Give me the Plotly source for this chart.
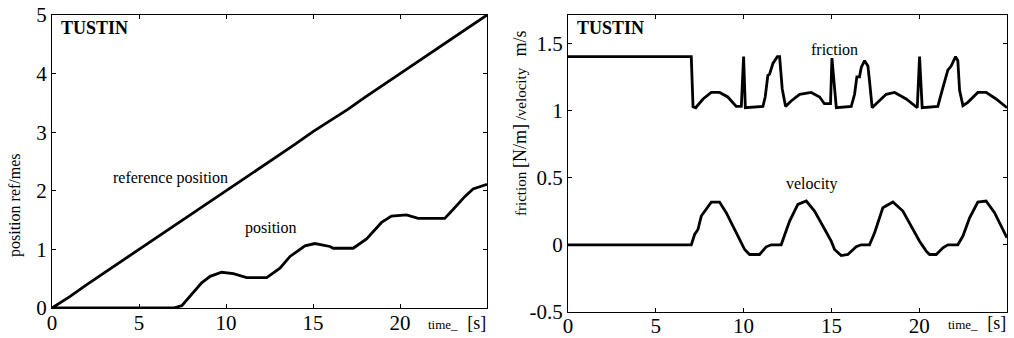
import plotly.graph_objects as go

# ---- data ----
ref_t = [0, 1, 2, 3, 4, 5, 6, 7, 8, 9, 10, 11, 12, 13, 14, 15, 16, 17, 18, 19, 20, 21, 22, 23, 24, 25]
ref_pos = [0.0, 0.19, 0.40, 0.60, 0.79, 1.0, 1.2, 1.39, 1.6, 1.8, 1.99, 2.2, 2.39, 2.6, 2.8, 3.01, 3.2, 3.39, 3.6, 3.8, 3.99, 4.2, 4.4, 4.6, 4.8, 5.0]

pos_t = [0, 6.98, 7.46, 8.03, 8.6, 9.09, 9.75, 10.42, 11.19, 12.34, 13.1, 13.68, 14.54, 15.11, 15.97,
         16.16, 17.31, 18.08, 18.94, 19.51, 20.37, 21.04, 22.57, 23.05, 23.72, 24.2, 25.0]
pos = [0, 0, 0.04, 0.23, 0.43, 0.54, 0.61, 0.585, 0.52, 0.52, 0.68, 0.88, 1.06, 1.10, 1.05,
       1.02, 1.02, 1.18, 1.46, 1.57, 1.59, 1.53, 1.53, 1.68, 1.90, 2.03, 2.11]

fric_t = [0, 7.02, 7.12, 7.27, 7.69, 8.16, 8.63, 9.1, 9.58, 9.87, 10.0, 10.1, 11.1, 11.23, 11.38, 11.48,
          11.67, 11.92, 12.05, 12.2, 12.39, 12.71, 13.19, 13.85, 14.33, 14.6, 14.95, 15.03, 15.28, 16.13,
          16.32, 16.45, 16.6, 16.7, 16.89, 17.08, 17.17, 17.32, 17.55, 18.12, 18.6, 19.26, 19.89, 20.02,
          20.17, 21.06, 21.35, 21.63, 21.82, 22.07, 22.2, 22.3, 22.49, 22.77, 23.34, 23.81, 24.38, 25.0]
friction = [1.40, 1.40, 1.027, 1.02, 1.085, 1.134, 1.134, 1.10, 1.03, 1.03, 1.40, 1.02, 1.03, 1.10, 1.26, 1.27,
            1.35, 1.40, 1.40, 1.16, 1.03, 1.07, 1.12, 1.134, 1.10, 1.05, 1.05, 1.39, 1.02, 1.03,
            1.12, 1.25, 1.25, 1.32, 1.37, 1.33, 1.22, 1.02, 1.05, 1.12, 1.134, 1.085, 1.02, 1.40,
            1.02, 1.03, 1.17, 1.30, 1.33, 1.40, 1.37, 1.15, 1.035, 1.06, 1.134, 1.134, 1.085, 1.02]

vel_t = [0, 7.02, 7.21, 7.4, 7.59, 8.16, 8.63, 9.01, 9.68, 10.06, 10.34, 10.91, 11.29, 11.58, 12.14, 12.33,
         12.62, 13.09, 13.57, 14.04, 14.99, 15.18, 15.56, 15.94, 16.41, 16.7, 17.17, 17.46, 17.93, 18.5,
         19.07, 20.02, 20.4, 20.59, 20.97, 21.35, 21.63, 22.2, 22.49, 22.87, 23.34, 23.81, 24.29, 25.0]
velocity = [0, 0, 0.077, 0.114, 0.214, 0.318, 0.318, 0.239, 0.065, -0.035, -0.072, -0.072, -0.015, 0, 0, 0.065,
            0.177, 0.301, 0.326, 0.251, 0.027, -0.035, -0.08, -0.072, -0.015, 0, 0, 0.09, 0.276, 0.318,
            0.251, 0.027, -0.047, -0.072, -0.072, -0.022, 0, 0, 0.065, 0.201, 0.318, 0.326, 0.239, 0.052]

x_ticks = [0, 5, 10, 15, 20]
left_y_ticks = [0, 1, 2, 3, 4, 5]
right_y_ticks = [-0.5, 0, 0.5, 1, 1.5]
right_y_labels = ["-0.5", "0", "0.5", "1", "1.5"]

FONT = "Liberation Serif, Times New Roman, serif"
W, H = 1014, 338

fig = go.Figure()
line = dict(color="black", width=2.8)
fig.add_trace(go.Scatter(x=ref_t, y=ref_pos, mode="lines", line=line, xaxis="x", yaxis="y"))
fig.add_trace(go.Scatter(x=pos_t, y=pos, mode="lines", line=line, xaxis="x", yaxis="y"))
fig.add_trace(go.Scatter(x=fric_t, y=friction, mode="lines", line=line, xaxis="x2", yaxis="y2"))
fig.add_trace(go.Scatter(x=vel_t, y=velocity, mode="lines", line=line, xaxis="x2", yaxis="y2"))

axcommon = dict(showline=True, linecolor="black", linewidth=1, mirror="ticks", ticks="inside",
                ticklen=4, tickcolor="black", tickwidth=1, showgrid=False, zeroline=False,
                automargin=False, tickfont=dict(family=FONT, size=21, color="black"))

fig.update_layout(
    width=W, height=H, margin=dict(l=0, r=0, t=0, b=0),
    paper_bgcolor="white", plot_bgcolor="white", showlegend=False,
    xaxis=dict(domain=[52 / W, 487 / W], range=[0, 25], tickvals=x_ticks, anchor="y",
               ticklabelstandoff=-4, **axcommon),
    yaxis=dict(domain=[1 - 308 / H, 1 - 15 / H], range=[0, 5], tickvals=left_y_ticks, anchor="x", **axcommon),
    xaxis2=dict(domain=[568 / W, 1007 / W], range=[0, 25], tickvals=x_ticks, anchor="y2",
                ticklabelstandoff=-5, **axcommon),
    yaxis2=dict(domain=[1 - 312 / H, 1 - 15 / H], range=[-0.5, 1.71], tickvals=right_y_ticks,
                ticktext=right_y_labels, anchor="x2", **axcommon),
)

tfont = dict(family=FONT, size=16, color="black")
bold = dict(family=FONT, size=18, color="black")
anns = [
    dict(x=59 / W, y=1 - 16 / H, xref="paper", yref="paper", text="<b>TUSTIN</b>", showarrow=False,
         xanchor="left", yanchor="top", font=bold),
    dict(x=575 / W, y=1 - 16 / H, xref="paper", yref="paper", text="<b>TUSTIN</b>", showarrow=False,
         xanchor="left", yanchor="top", font=bold),
    dict(x=6.8, y=2.22, xref="x", yref="y", text="reference position", showarrow=False, font=tfont),
    dict(x=12.6, y=1.36, xref="x", yref="y", text="position", showarrow=False, font=tfont),
    dict(x=15.2, y=1.45, xref="x2", yref="y2", text="friction", showarrow=False, font=tfont),
    dict(x=13.9, y=0.455, xref="x2", yref="y2", text="velocity", showarrow=False, font=tfont),
    # axis titles
    dict(x=15 / W, y=1 - 205 / H, xref="paper", yref="paper", text="position ref/mes", textangle=-90,
         showarrow=False, xanchor="center", yanchor="middle", font=tfont),
    dict(x=520 / W, y=1 - 124 / H, xref="paper", yref="paper", textangle=-90,
         text="friction <span style='font-size:18px'>[N/m]</span> /velocity&nbsp;&nbsp;&nbsp;<span style='font-size:18px'>m/s</span>",
         showarrow=False, xanchor="center", yanchor="middle", font=dict(family=FONT, size=15, color="black")),
    dict(x=488 / W, y=1 - 323 / H, xref="paper", yref="paper",
         text="time_&nbsp;&nbsp;&nbsp;<span style='font-size:18px'>[s]</span>",
         showarrow=False, xanchor="right", yanchor="middle", font=dict(family=FONT, size=13, color="black")),
    dict(x=1008 / W, y=1 - 323 / H, xref="paper", yref="paper",
         text="time_&nbsp;&nbsp;&nbsp;<span style='font-size:18px'>[s]</span>",
         showarrow=False, xanchor="right", yanchor="middle", font=dict(family=FONT, size=13, color="black")),
]
fig.update_layout(annotations=anns)

fig.write_html("out.html", config={"displayModeBar": False},
               post_script="document.body.style.margin='0';document.body.style.overflow='hidden';")
